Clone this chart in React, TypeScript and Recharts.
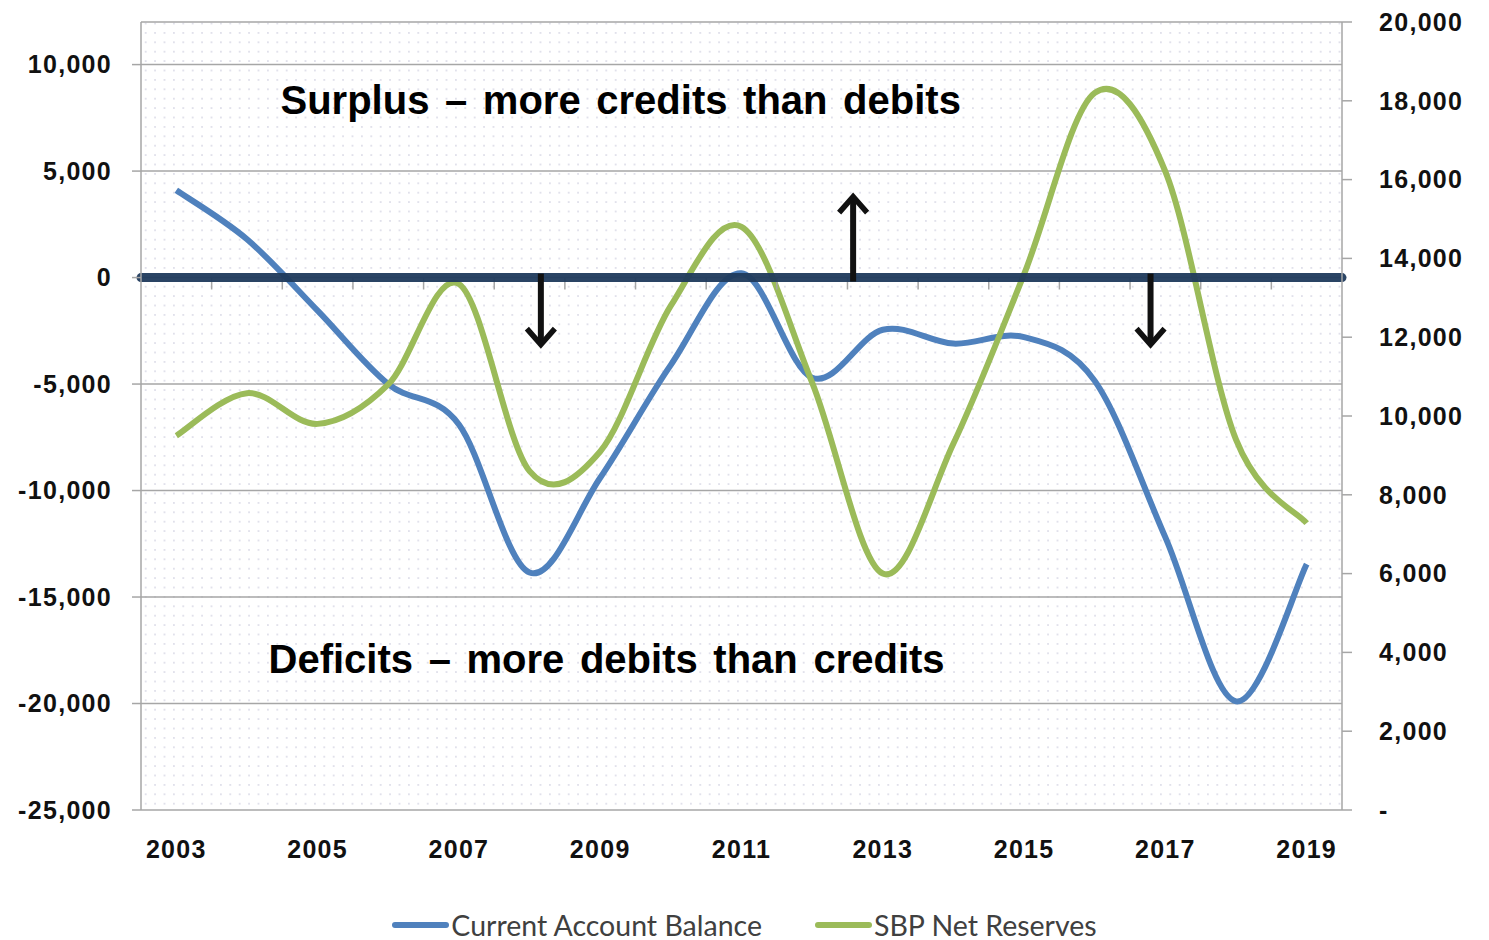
import React from 'react';
import {
  LineChart,
  Line,
  XAxis,
  YAxis,
  CartesianGrid,
  ReferenceLine,
  ReferenceDot,
  Legend,
} from 'recharts';

// ---- data ----
const years = [2003, 2004, 2005, 2006, 2007, 2008, 2009, 2010, 2011, 2012, 2013, 2014, 2015, 2016, 2017, 2018, 2019];
const currentAccountBalance = [4100, 1800, -1550, -5000, -6900, -13850, -9400, -4100, 200, -4700, -2450, -3100, -2800, -4850, -12200, -19900, -13450];
const sbpNetReserves = [9500, 10580, 9800, 10800, 13350, 8600, 9100, 12800, 14800, 10850, 6000, 9300, 13600, 18200, 16200, 9400, 7280];

const xTicks = [2003, 2005, 2007, 2009, 2011, 2013, 2015, 2017, 2019];
const leftTicks = [-25000, -20000, -15000, -10000, -5000, 0, 5000, 10000];
const rightTicks = [0, 2000, 4000, 6000, 8000, 10000, 12000, 14000, 16000, 18000, 20000];

// annotation positions in data units
const arrows = [
  { x: 2008.16, from: 0, to: -3150 },
  { x: 2012.58, from: 0, to: 3800 },
  { x: 2016.79, from: 0, to: -3150 },
];
const notes = [
  { x: 2009.29, y: 8357, text: 'Surplus \u2013 more credits than debits' },
  { x: 2009.09, y: -17888, text: 'Deficits \u2013 more debits than credits' },
];
const seriesNames = ['Current Account Balance', 'SBP Net Reserves'];

const data = years.map((year, i) => ({
  year,
  cab: currentAccountBalance[i],
  sbp: sbpNetReserves[i],
}));
const bandEdges = years.slice(0, -1).map((y) => y + 0.5);

const BLUE = '#4F81BD';
const GREEN = '#9BBB59';
const NAVY = '#1F3A5C';
const GRID = '#A6A6A6';

// Excel-like smoothed line (uniform Catmull-Rom as cubic Bezier)
function excelCurve(context: any) {
  let pts: number[][] = [];
  return {
    areaStart() {},
    areaEnd() {},
    lineStart() {
      pts = [];
    },
    lineEnd() {
      const n = pts.length;
      if (!n) return;
      context.moveTo(pts[0][0], pts[0][1]);
      for (let i = 0; i < n - 1; i++) {
        const p0 = pts[i - 1] || pts[i];
        const p1 = pts[i];
        const p2 = pts[i + 1];
        const p3 = pts[i + 2] || pts[i + 1];
        context.bezierCurveTo(
          p1[0] + (p2[0] - p0[0]) / 6,
          p1[1] + (p2[1] - p0[1]) / 6,
          p2[0] - (p3[0] - p1[0]) / 6,
          p2[1] - (p3[1] - p1[1]) / 6,
          p2[0],
          p2[1]
        );
      }
    },
    point(x: number, y: number) {
      pts.push([+x, +y]);
    },
  };
}

const ArrowShape = (props: any) => {
  const { x1, y1, x2, y2 } = props;
  if ([x1, y1, x2, y2].some((v) => typeof v !== 'number' || isNaN(v))) return null;
  const dir = y2 > y1 ? 1 : -1;
  return (
    <g>
      <line x1={x1} y1={y1 - dir * 4} x2={x2} y2={y2 - dir * 3} stroke="#111" strokeWidth={6} />
      <polyline
        points={`${x2 - 14},${y2 - dir * 16} ${x2},${y2} ${x2 + 14},${y2 - dir * 16}`}
        fill="none"
        stroke="#111"
        strokeWidth={5.5}
        strokeLinejoin="miter"
      />
    </g>
  );
};

const tickFont = {
  fontFamily: "'Liberation Sans', Arial, sans-serif",
  fontWeight: 700,
  fontSize: 25,
  fill: '#111',
  letterSpacing: 1.3,
};

const LegendContent = () => (
  <div
    style={{
      height: 30,
      display: 'flex',
      justifyContent: 'center',
      alignItems: 'center',
      fontFamily: "Lato, 'Open Sans', sans-serif",
      fontSize: 28.5,
      color: '#404040',
    }}
  >
    {seriesNames.map((name, i) => (
      <div key={name} style={{ display: 'flex', alignItems: 'center', marginLeft: i ? 53 : 0 }}>
        <svg width={57} height={10} style={{ marginRight: 2 }}>
          <line x1={3} y1={5} x2={54} y2={5} stroke={i ? GREEN : BLUE} strokeWidth={6} strokeLinecap="round" />
        </svg>
        <span>{name}</span>
      </div>
    ))}
  </div>
);

export default function App() {
  return (
    <div style={{ position: 'absolute', left: 0, top: 0, width: 1489, height: 940, background: '#fff' }}>
      <svg width={0} height={0} style={{ position: 'absolute' }}>
        <defs>
          <pattern id="dotsBg" x={0} y={0} width={9.4} height={9.4} patternUnits="userSpaceOnUse">
            <rect width={9.4} height={9.4} fill="#ffffff" />
            <circle cx={4.7} cy={4.7} r={0.9} fill="#D6D6E4" />
          </pattern>
        </defs>
      </svg>
      <LineChart
        width={1489}
        height={940}
        data={data}
        margin={{ top: 22, right: 0, bottom: 0, left: 0 }}
      >
        <CartesianGrid yAxisId="left" vertical={false} stroke={GRID} strokeWidth={1.5} fill="url(#dotsBg)" />
        <XAxis
          dataKey="year"
          type="number"
          domain={[2002.5, 2019.5]}
          allowDataOverflow
          ticks={xTicks}
          interval={0}
          axisLine={false}
          tickLine={false}
          tickSize={0}
          tickMargin={30}
          height={100}
          tick={tickFont}
        />
        <YAxis
          yAxisId="left"
          orientation="left"
          width={141}
          domain={[-25000, 12000]}
          ticks={leftTicks}
          allowDataOverflow
          tickFormatter={(v: number) => v.toLocaleString('en-US')}
          axisLine={{ stroke: GRID, strokeWidth: 1.5 }}
          tickLine={{ stroke: GRID, strokeWidth: 1.5 }}
          tickSize={9}
          tickMargin={20}
          tick={tickFont}
        />
        <YAxis
          yAxisId="right"
          orientation="right"
          width={147}
          domain={[0, 20000]}
          ticks={rightTicks}
          allowDataOverflow
          tickFormatter={(v: number) => (v === 0 ? '-' : v.toLocaleString('en-US'))}
          axisLine={{ stroke: GRID, strokeWidth: 1.5 }}
          tickLine={{ stroke: GRID, strokeWidth: 1.5 }}
          tickSize={10}
          tickMargin={27}
          tick={tickFont}
        />
        <Legend verticalAlign="bottom" height={30} content={<LegendContent />} />
        <Line
          yAxisId="left"
          dataKey="cab"
          name={seriesNames[0]}
          type={excelCurve as any}
          stroke={BLUE}
          strokeWidth={6}
          dot={false}
          activeDot={false}
          isAnimationActive={false}
        />
        <Line
          yAxisId="right"
          dataKey="sbp"
          name={seriesNames[1]}
          type={excelCurve as any}
          stroke={GREEN}
          strokeWidth={6}
          dot={false}
          activeDot={false}
          isAnimationActive={false}
        />
        {bandEdges.map((e) => (
          <ReferenceLine
            key={'t' + e}
            yAxisId="left"
            segment={[{ x: e, y: 0 }, { x: e, y: -560 }]}
            stroke={GRID}
            strokeWidth={1.5}
          />
        ))}
        <ReferenceLine
          yAxisId="left"
          y={0}
          stroke={NAVY}
          strokeOpacity={0.95}
          strokeWidth={9}
          strokeLinecap="round"
        />
        {arrows.map((a) => (
          <ReferenceLine
            key={'a' + a.x}
            yAxisId="left"
            segment={[{ x: a.x, y: a.from }, { x: a.x, y: a.to }]}
            stroke="#111"
            shape={(p: any) => <ArrowShape {...p} />}
          />
        ))}
        {notes.map((n) => (
          <ReferenceDot
            key={n.text}
            yAxisId="left"
            x={n.x}
            y={n.y}
            r={1}
            fill="none"
            stroke="none"
            label={(lp: any) => {
              const vb = lp.viewBox || {};
              const cx = (vb.x ?? 0) + (vb.width ?? 0) / 2;
              const cy = (vb.y ?? 0) + (vb.height ?? 0) / 2;
              return (
                <text
                  x={cx}
                  y={cy}
                  textAnchor="middle"
                  dominantBaseline="central"
                  fontFamily="'Liberation Sans', Arial, sans-serif"
                  fontWeight={700}
                  fontSize={40}
                  wordSpacing={4.5}
                  fill="#000"
                >
                  {n.text}
                </text>
              );
            }}
          />
        ))}
      </LineChart>
    </div>
  );
}
